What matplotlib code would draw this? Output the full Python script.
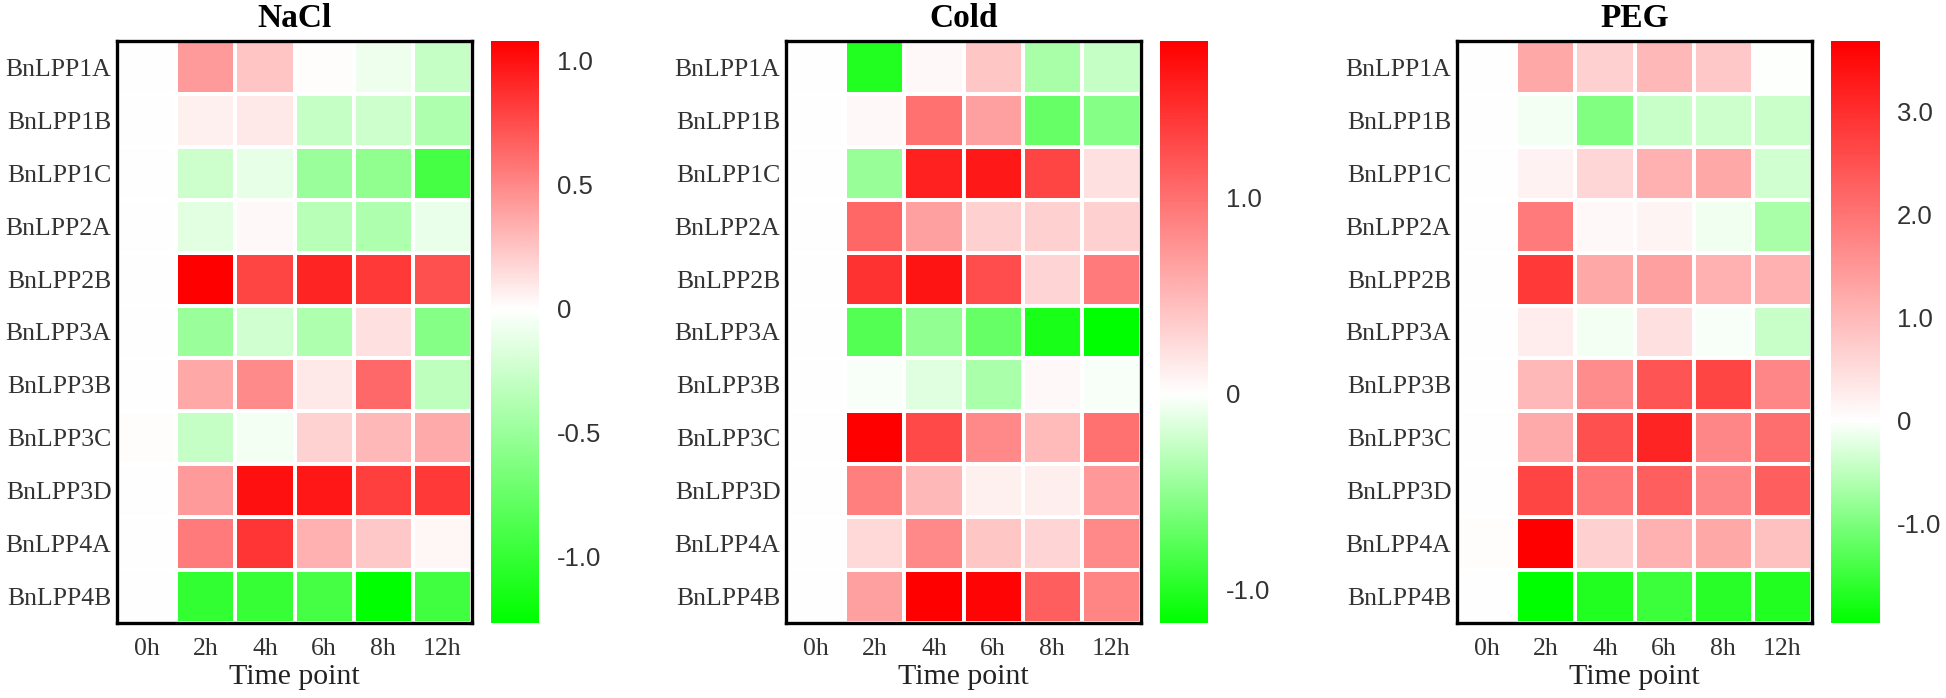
import numpy as np
import matplotlib as mpl
mpl.use("Agg")
import matplotlib.pyplot as plt
from matplotlib.colors import LinearSegmentedColormap, TwoSlopeNorm

mpl.rcParams.update({
    "font.family": "serif",
    "font.serif": ["Liberation Serif", "DejaVu Serif"],
})

genes = ["BnLPP1A", "BnLPP1B", "BnLPP1C", "BnLPP2A", "BnLPP2B", "BnLPP3A",
         "BnLPP3B", "BnLPP3C", "BnLPP3D", "BnLPP4A", "BnLPP4B"]
times = ["0h", "2h", "4h", "6h", "8h", "12h"]
panels = ["NaCl", "Cold", "PEG"]

# log2 fold change estimates, rows = genes, cols = time points
nacl = [
    [0.00, 0.43, 0.25, 0.01, -0.08, -0.28],
    [0.00, 0.06, 0.10, -0.28, -0.25, -0.40],
    [0.00, -0.25, -0.12, -0.50, -0.55, -0.93],
    [0.00, -0.14, 0.03, -0.35, -0.40, -0.10],
    [0.00, 1.08, 0.79, 0.92, 0.84, 0.74],
    [0.00, -0.50, -0.23, -0.40, 0.13, -0.60],
    [0.00, 0.37, 0.49, 0.10, 0.64, -0.32],
    [0.01, -0.28, -0.05, 0.19, 0.30, 0.36],
    [0.00, 0.43, 1.01, 0.98, 0.81, 0.84],
    [0.00, 0.56, 0.86, 0.33, 0.23, 0.04],
    [0.00, -1.02, -1.00, -0.93, -1.27, -0.95],
]
cold = [
    [0.00, -1.02, 0.05, 0.40, -0.40, -0.26],
    [0.00, 0.05, 1.00, 0.67, -0.70, -0.55],
    [0.00, -0.47, 1.57, 1.63, 1.31, 0.22],
    [0.00, 1.08, 0.67, 0.33, 0.33, 0.33],
    [0.00, 1.44, 1.65, 1.26, 0.30, 0.94],
    [0.00, -0.78, -0.50, -0.70, -1.06, -1.17],
    [0.00, -0.03, -0.14, -0.39, 0.05, -0.03],
    [0.00, 1.80, 1.29, 0.84, 0.48, 1.00],
    [0.00, 0.90, 0.50, 0.10, 0.12, 0.72],
    [0.00, 0.27, 0.84, 0.40, 0.30, 0.84],
    [0.00, 0.67, 1.80, 1.76, 1.13, 0.86],
]
peg = [
    [0.00, 1.25, 0.67, 1.02, 0.80, -0.03],
    [0.00, -0.08, -0.98, -0.42, -0.39, -0.40],
    [0.00, 0.20, 0.60, 1.14, 1.25, -0.36],
    [0.00, 1.92, 0.10, 0.15, -0.12, -0.66],
    [0.00, 2.87, 1.25, 1.37, 1.14, 1.14],
    [0.00, 0.27, -0.08, 0.45, -0.06, -0.42],
    [0.00, 1.02, 1.66, 2.45, 2.68, 1.73],
    [0.00, 1.22, 2.52, 3.15, 1.73, 2.07],
    [0.00, 2.68, 2.00, 2.30, 1.74, 2.30],
    [0.05, 3.68, 0.67, 1.14, 1.25, 0.90],
    [0.00, -1.95, -1.70, -1.50, -1.65, -1.70],
]
cbar_min = [-1.27, -1.17, -1.96]
cbar_max = [1.08, 1.80, 3.68]
cbar_ticks = [[-1.0, -0.5, 0, 0.5, 1.0], [-1.0, 0, 1.0], [-1.0, 0, 1.0, 2.0, 3.0]]
cbar_labels = [["-1.0", "-0.5", "0", "0.5", "1.0"], ["-1.0", "0", "1.0"],
               ["-1.0", "0", "1.0", "2.0", "3.0"]]

W, H = 1946, 698
fig = plt.figure(figsize=(W / 100, H / 100), dpi=100)
cmap = LinearSegmentedColormap.from_list("gwr", ["#00FF00", "#FFFFFF", "#FF0000"])

box_left = [117, 786, 1457]
box_w, cb_gap, cb_w = 355, 19, 48
top, bot = 41, 623

for i, vals in enumerate([nacl, cold, peg]):
    data = np.array(vals)
    lo, hi = cbar_min[i], cbar_max[i]
    norm = TwoSlopeNorm(vcenter=0, vmin=lo, vmax=hi)

    ax = fig.add_axes([box_left[i] / W, 1 - bot / H, box_w / W, (bot - top) / H])
    ax.pcolormesh(data, cmap=cmap, norm=norm, edgecolors="white", linewidth=1.5)
    ax.set_xlim(0, len(times)); ax.set_ylim(len(genes), 0)
    ax.set_xticks(np.arange(len(times)) + 0.5, times)
    ax.set_yticks(np.arange(len(genes)) + 0.5, genes)
    ax.tick_params(length=0, labelsize=18.5, labelcolor="#333333")
    ax.tick_params(axis="x", pad=11)
    ax.tick_params(axis="y", pad=4)
    for s in ax.spines.values():
        s.set_linewidth(2.4); s.set_color("black")
    ax.set_title(panels[i], fontsize=24, fontweight="bold", pad=10)
    ax.set_xlabel("Time point", fontsize=21.5, color="#222222", labelpad=3)

    cx = box_left[i] + box_w + cb_gap
    cax = fig.add_axes([cx / W, 1 - bot / H, cb_w / W, (bot - top) / H])
    grad = np.linspace(lo, hi, 600).reshape(-1, 1)
    cax.imshow(grad, aspect="auto", origin="lower", extent=[0, 1, lo, hi],
               cmap=cmap, norm=norm)
    cax.set_xticks([])
    cax.yaxis.tick_right()
    cax.set_yticks(cbar_ticks[i], cbar_labels[i], family="Liberation Sans")
    cax.tick_params(length=0, labelsize=18.5, labelcolor="#333333", pad=13)
    for s in cax.spines.values():
        s.set_visible(False)

fig.savefig("out.png", dpi=100)
